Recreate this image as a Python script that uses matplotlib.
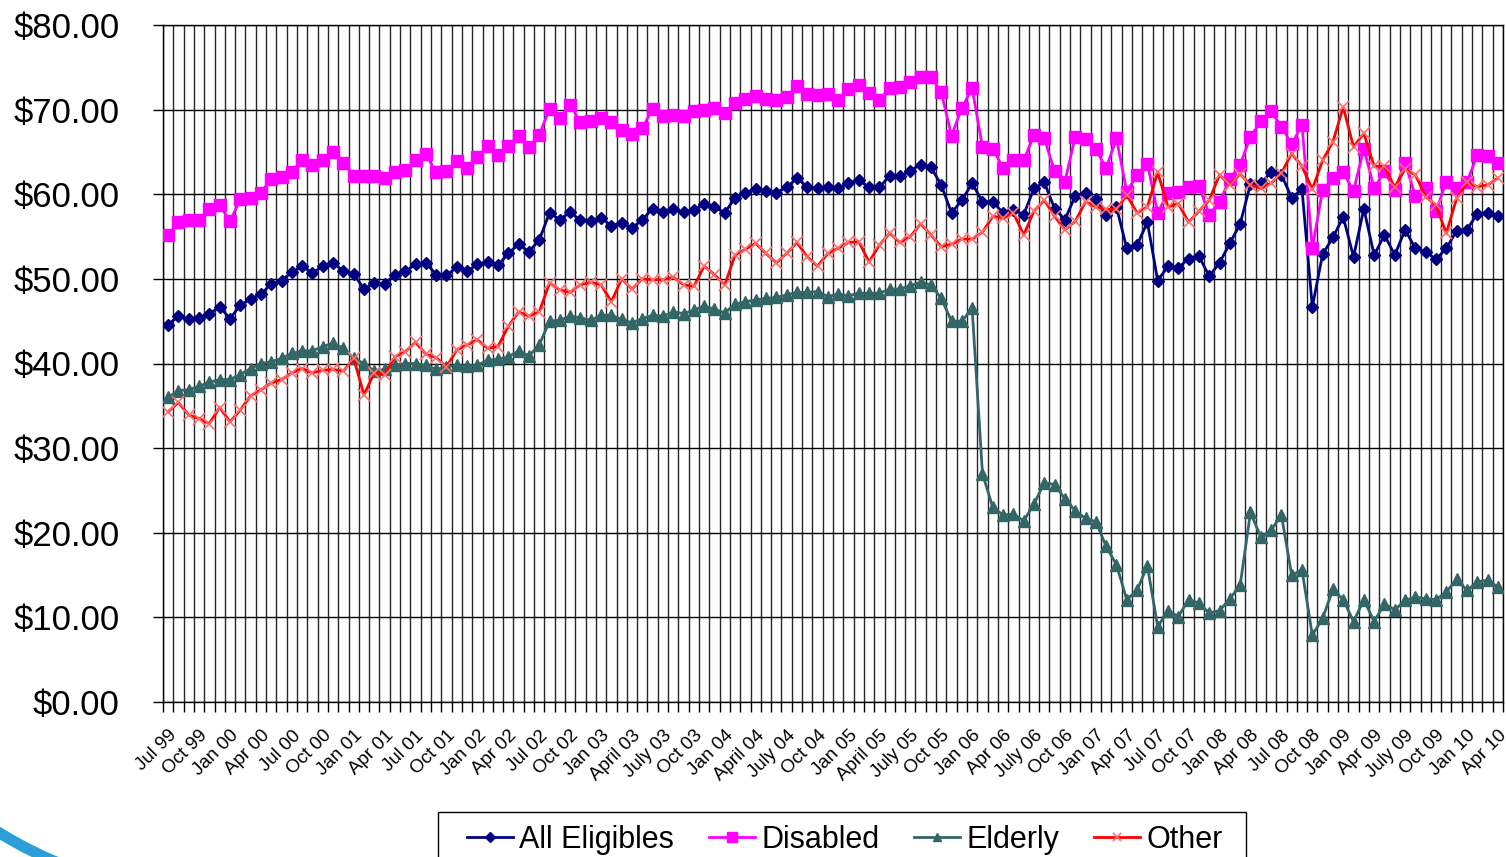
import matplotlib
matplotlib.use('Agg')
import matplotlib.pyplot as plt
from matplotlib.patches import Arc, Rectangle
from matplotlib.ticker import FuncFormatter
from matplotlib.transforms import IdentityTransform

# monthly values, Jul 99 .. Apr 10
all_eligibles = [44.6, 45.6, 45.2, 45.4, 45.9, 46.7, 45.3, 46.9, 47.6, 48.2, 49.4, 49.8, 50.8, 51.5, 50.7,
                 51.5, 51.9, 50.9, 50.6, 48.8, 49.5, 49.4, 50.5, 50.9, 51.7, 51.9, 50.5, 50.4, 51.4, 50.9,
                 51.7, 52.0, 51.6, 53.0, 54.1, 53.2, 54.6, 57.8, 57.0, 57.9, 56.9,
                 56.8, 57.2, 56.3, 56.6, 56.0, 57.0, 58.3, 57.9, 58.2, 57.9, 58.1, 58.9, 58.5, 57.8, 59.6,
                 60.2, 60.6, 60.4, 60.2, 60.8, 61.9, 60.9, 60.7, 60.8, 60.7, 61.3, 61.7, 60.8, 60.8, 62.2,
                 62.1, 62.8, 63.5, 63.2, 61.1, 57.8, 59.3, 61.3, 59.1, 59.1, 57.8, 58.1, 57.6,
                 60.7, 61.4, 58.3, 57.0, 59.8, 60.2, 59.4, 57.6, 58.5, 53.6, 54.0, 56.7, 49.8, 51.5, 51.3,
                 52.4, 52.7, 50.3, 51.9, 54.2, 56.5, 61.2, 61.3, 62.6, 62.3, 59.6, 60.6, 46.7, 52.9, 54.9,
                 57.3, 52.6, 58.3, 52.8, 55.2, 52.8, 55.8, 53.6, 53.2, 52.3, 53.6, 55.7, 55.8, 57.7, 57.8,
                 57.4]
disabled = [55.2, 56.7, 56.9, 57.0, 58.2, 58.7, 56.8, 59.4, 59.6, 60.2, 61.8, 62.0, 62.6, 64.1, 63.5,
            64.0, 65.0, 63.7, 62.2, 62.2, 62.2, 61.9, 62.6, 62.9, 64.0, 64.7, 62.6, 62.8, 63.9, 63.1,
            64.4, 65.7, 64.6, 65.7, 66.9, 65.6, 67.0, 70.1, 69.0, 70.6, 68.5,
            68.7, 69.0, 68.5, 67.6, 67.1, 67.8, 70.1, 69.2, 69.4, 69.2, 69.8, 70.0, 70.2, 69.6, 70.8,
            71.2, 71.6, 71.3, 71.1, 71.5, 72.8, 71.9, 71.7, 71.9, 71.1, 72.4, 72.9, 72.0, 71.1, 72.6,
            72.7, 73.3, 73.8, 73.8, 72.1, 66.9, 70.2, 72.5, 65.6, 65.4, 63.1, 64.0, 64.0,
            67.0, 66.6, 62.7, 61.5, 66.8, 66.5, 65.3, 63.1, 66.6, 60.3, 62.3, 63.6, 57.8, 60.2, 60.3,
            60.8, 61.0, 57.6, 59.1, 61.8, 63.5, 66.8, 68.6, 69.8, 68.0, 65.9, 68.2, 53.6, 60.5, 61.9,
            62.6, 60.4, 65.4, 60.7, 62.7, 60.5, 63.7, 59.8, 60.7, 58.0, 61.5, 60.7, 61.4, 64.6, 64.5,
            63.7]
elderly = [36.0, 36.8, 36.9, 37.3, 37.8, 38.1, 38.1, 38.7, 39.4, 40.0, 40.2, 40.6, 41.2, 41.5, 41.5,
           42.0, 42.4, 41.8, 40.6, 40.0, 39.1, 39.3, 39.8, 40.0, 40.0, 39.8, 39.3, 39.6, 39.8, 39.7,
           39.8, 40.4, 40.5, 40.8, 41.5, 40.9, 42.2, 45.0, 45.1, 45.6, 45.4,
           45.1, 45.7, 45.7, 45.2, 44.8, 45.3, 45.7, 45.6, 46.1, 45.9, 46.3, 46.8, 46.4, 46.0, 47.0,
           47.3, 47.5, 47.7, 47.8, 48.1, 48.4, 48.4, 48.5, 47.9, 48.2, 48.0, 48.3, 48.3, 48.3, 48.8,
           48.8, 49.2, 49.6, 49.3, 47.7, 45.0, 45.0, 46.5,
           27.0, 23.0, 22.1, 22.2, 21.4, 23.4, 25.9, 25.7, 24.0, 22.6, 21.7, 21.3, 18.4, 16.2, 12.1,
           13.2, 16.1, 8.9, 10.8, 10.1, 12.1, 11.7, 10.5, 10.8, 12.2, 13.8, 22.4, 19.5, 20.3, 22.1,
           15.0, 15.6, 7.9, 9.9, 13.3, 12.1, 9.5, 12.1, 9.5, 11.6, 10.9, 12.0, 12.4, 12.2, 12.1,
           13.0, 14.5, 13.2, 14.2, 14.4, 13.6]
other = [34.3, 35.4, 33.9, 33.5, 32.9, 34.8, 33.1, 34.5, 36.2, 36.9, 37.7, 38.1, 38.9, 39.4, 38.9,
         39.2, 39.3, 39.1, 40.6, 36.3, 38.9, 38.7, 40.8, 41.4, 42.5, 41.1, 40.7, 39.6, 41.6, 42.2,
         42.8, 41.8, 42.0, 44.4, 46.1, 45.6, 46.1, 49.5, 48.7, 48.4, 49.3,
         49.6, 49.3, 47.3, 50.0, 48.8, 50.0, 49.9, 49.9, 50.2, 49.3, 49.1, 51.5, 50.5, 49.3, 52.8,
         53.5, 54.2, 53.0, 51.9, 53.0, 54.3, 52.6, 51.5, 53.0, 53.6, 54.3, 54.4, 52.0, 54.0, 55.4,
         54.3, 55.0, 56.5, 55.2, 53.8, 54.1, 54.7, 54.7, 55.5, 57.4, 57.2, 57.8, 55.2,
         58.0, 59.3, 57.4, 55.8, 56.8, 59.1, 58.5, 58.2, 58.2, 59.9, 57.8, 58.5, 62.6, 58.5, 58.9,
         56.7, 58.0, 59.3, 62.3, 61.1, 62.4, 61.1, 60.7, 61.3, 62.5, 64.8, 63.3, 60.6, 64.0, 66.2,
         70.3, 65.6, 67.2, 63.3, 63.3, 60.8, 63.0, 62.3, 59.7, 58.7, 55.4, 59.5, 61.4, 60.9, 61.1,
         61.9]

# one label every third month
tick_labels = ['Jul 99', 'Oct 99', 'Jan 00', 'Apr 00', 'Jul 00', 'Oct 00', 'Jan 01', 'Apr 01', 'Jul 01',
               'Oct 01', 'Jan 02', 'Apr 02', 'Jul 02', 'Oct 02', 'Jan 03', 'April 03', 'July 03', 'Oct 03',
               'Jan 04', 'April 04', 'July 04', 'Oct 04', 'Jan 05', 'April 05', 'July 05', 'Oct 05',
               'Jan 06', 'Apr 06', 'July 06', 'Oct 06', 'Jan 07', 'Apr 07', 'Jul 07', 'Oct 07', 'Jan 08',
               'Apr 08', 'Jul 08', 'Oct 08', 'Jan 09', 'Apr 09', 'July 09', 'Oct 09', 'Jan 10', 'Apr 10']

plt.rcParams['font.family'] = ['Liberation Sans', 'DejaVu Sans']

W, H = 1506, 857
fig = plt.figure(figsize=(W / 100, H / 100), dpi=100)
ax = fig.add_axes([163 / W, 1 - 702 / H, (1503 - 163) / W, (702 - 25) / H])

x = list(range(len(all_eligibles)))
ax.plot(x, all_eligibles, color='#000080', marker='D', markersize=6.5, lw=2, label='All Eligibles', zorder=3)
ax.plot(x, disabled, color='#FF00FF', marker='s', markersize=8.5, lw=2, label='Disabled', zorder=4)
ax.plot(x, elderly, color='#336666', marker='^', markersize=8, lw=2, label='Elderly', zorder=5)
ax.plot(x, other, color='#FF0000', marker='x', markersize=8, mec='#FF7070', mew=1.2, lw=2,
        label='Other', zorder=6)

ax.set_xlim(-0.5, len(x) - 0.5)
ax.set_ylim(0, 80)
ax.set_yticks(range(0, 81, 10))
ax.yaxis.set_major_formatter(FuncFormatter(lambda v, p: '${:.2f}'.format(v)))

ax.set_xticks(range(0, len(x), 3))
ax.set_xticklabels(tick_labels, rotation=45, ha='right', rotation_mode='anchor', fontsize=13.5)
ax.set_xticks([k - 0.5 for k in range(len(x) + 1)], minor=True)

ax.grid(True, which='minor', axis='x', color='black', lw=1, alpha=0.85)
ax.grid(True, which='major', axis='y', color='black', lw=1)
ax.set_axisbelow(True)

ax.tick_params(axis='x', which='major', length=0, pad=18)
ax.tick_params(axis='x', which='minor', length=7, width=1, direction='out')
ax.tick_params(axis='y', length=7, width=1, labelsize=25, pad=24)
for s in ax.spines.values():
    s.set_color('black')
    s.set_linewidth(1)

# legend entries without frame, box drawn separately (runs off the bottom edge)
leg = fig.legend(loc='center', bbox_to_anchor=(845 / W, 1 - 840 / H), ncol=4, fontsize=22,
                 frameon=False, handlelength=1.5, handletextpad=0.2, columnspacing=1.15,
                 borderpad=0, borderaxespad=0, markerscale=0.8)
box = Rectangle((438 / W, -0.02), (1246 - 438) / W, 0.02 + (857 - 812) / H, transform=fig.transFigure,
                facecolor='none', edgecolor='black', lw=1)
fig.add_artist(box)

# blue swoosh in the lower left corner of the slide
swoosh = Arc((214.5, 372), 2 * 409, 2 * 409, theta1=225, theta2=250, color='#2A9FD8', lw=8,
             transform=IdentityTransform())
fig.add_artist(swoosh)

fig.savefig('out.png', dpi=100)
